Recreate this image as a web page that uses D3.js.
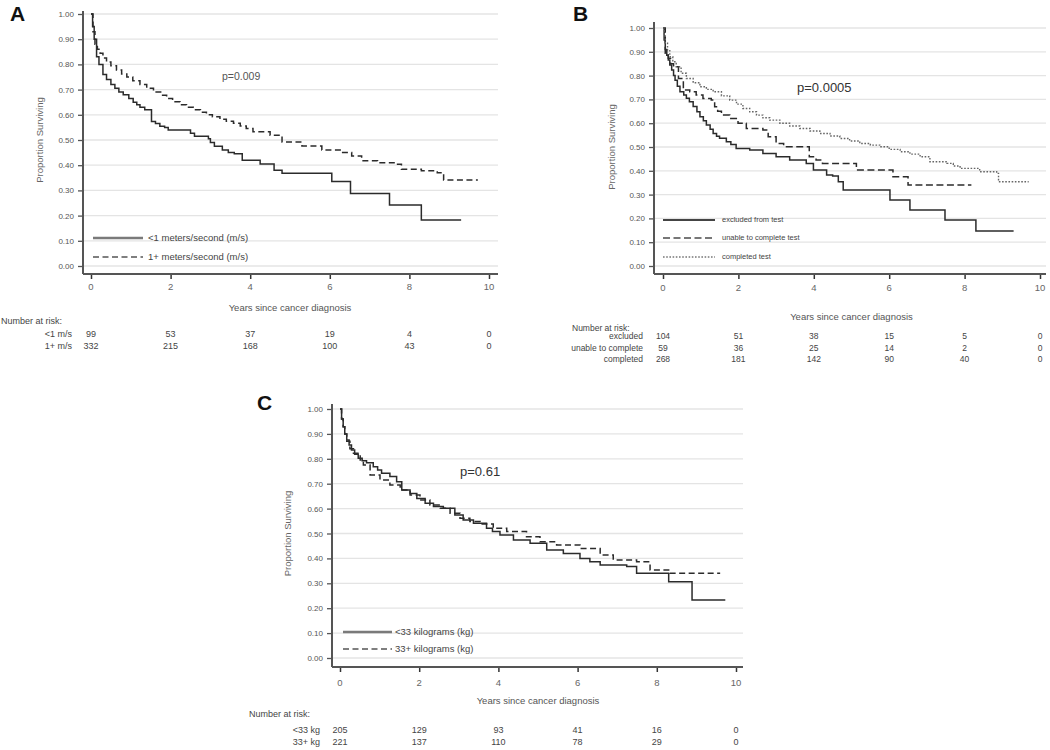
<!DOCTYPE html>
<html><head><meta charset="utf-8">
<script src="https://cdn.jsdelivr.net/npm/d3@7"></script>
<style>
body{margin:0;background:#fff;}
svg{display:block;}
text{font-family:"Liberation Sans",Arial,Helvetica,sans-serif;}
</style>
</head><body>
<svg id="chart" width="1050" height="750"></svg>
<script>
// ---------------- DATA ----------------
const yTickValues = [0,0.1,0.2,0.3,0.4,0.5,0.6,0.7,0.8,0.9,1.0];
const xTickValues = [0,2,4,6,8,10];
const xTitle = "Years since cancer diagnosis";
const yTitle = "Proportion Surviving";

// Panel A: gait speed
const A_lt1 = [[0,1],[0.04,0.95],[0.08,0.9],[0.14,0.83],[0.2,0.8],[0.3,0.76],[0.39,0.74],[0.5,0.72],[0.6,0.705],[0.7,0.69],[0.81,0.68],[0.95,0.665],[1.06,0.65],[1.15,0.64],[1.23,0.63],[1.35,0.62],[1.52,0.573],[1.62,0.565],[1.73,0.555],[1.85,0.55],[1.94,0.54],[2.5,0.527],[2.6,0.515],[2.95,0.505],[3.0,0.49],[3.1,0.475],[3.3,0.46],[3.45,0.45],[3.6,0.445],[3.8,0.42],[4.25,0.405],[4.6,0.38],[4.8,0.368],[6.05,0.335],[6.52,0.288],[7.5,0.242],[8.3,0.183],[9.3,0.183]];
const A_ge1 = [[0,1],[0.05,0.93],[0.1,0.88],[0.16,0.86],[0.23,0.844],[0.3,0.825],[0.39,0.81],[0.5,0.795],[0.64,0.778],[0.77,0.762],[0.9,0.75],[1.05,0.735],[1.23,0.72],[1.4,0.705],[1.57,0.69],[1.75,0.678],[1.9,0.665],[2.05,0.652],[2.24,0.64],[2.4,0.63],[2.57,0.62],[2.75,0.61],[2.9,0.6],[3.05,0.592],[3.24,0.582],[3.4,0.574],[3.58,0.566],[3.75,0.556],[3.9,0.546],[4.07,0.533],[4.5,0.519],[4.8,0.492],[5.3,0.476],[5.8,0.46],[6.3,0.45],[6.55,0.437],[6.8,0.418],[7.2,0.41],[7.65,0.404],[7.8,0.384],[8.3,0.378],[8.7,0.37],[8.86,0.341],[9.72,0.341]];
const A_labels = ["<1 meters/second (m/s)","1+ meters/second (m/s)"];
const A_riskLabels = ["<1 m/s","1+ m/s"];
const A_risk_lt1 = [99,53,37,19,4,0];
const A_risk_ge1 = [332,215,168,100,43,0];
const A_p = "p=0.009";

// Panel B: test completion
const B_excl = [[0,1],[0.03,0.95],[0.06,0.91],[0.1,0.885],[0.14,0.866],[0.18,0.845],[0.23,0.824],[0.28,0.8],[0.32,0.78],[0.38,0.755],[0.45,0.732],[0.55,0.718],[0.62,0.705],[0.7,0.69],[0.8,0.67],[0.9,0.648],[0.98,0.627],[1.07,0.61],[1.15,0.592],[1.25,0.575],[1.33,0.557],[1.42,0.545],[1.5,0.537],[1.68,0.522],[1.8,0.51],[1.94,0.494],[2.3,0.487],[2.65,0.473],[3.0,0.459],[3.36,0.445],[3.8,0.431],[3.99,0.403],[4.34,0.382],[4.5,0.378],[4.65,0.354],[4.78,0.319],[6.02,0.277],[6.55,0.235],[7.48,0.193],[8.3,0.147],[9.3,0.147]];
const B_unable = [[0,1],[0.06,0.894],[0.14,0.873],[0.2,0.85],[0.28,0.837],[0.41,0.788],[0.54,0.739],[0.71,0.732],[0.88,0.718],[1.06,0.704],[1.28,0.697],[1.37,0.669],[1.45,0.65],[1.55,0.634],[1.77,0.62],[1.99,0.6],[2.21,0.578],[2.65,0.571],[2.79,0.543],[3.0,0.515],[3.2,0.501],[3.88,0.459],[4.06,0.445],[4.23,0.431],[5.13,0.403],[6.1,0.375],[6.5,0.34],[8.18,0.34]];
const B_compl = [[0,1],[0.03,0.97],[0.06,0.936],[0.12,0.905],[0.18,0.879],[0.26,0.858],[0.35,0.837],[0.48,0.81],[0.62,0.788],[0.8,0.77],[0.98,0.753],[1.15,0.742],[1.33,0.732],[1.55,0.715],[1.77,0.697],[1.95,0.68],[2.12,0.662],[2.3,0.648],[2.48,0.634],[2.65,0.623],[2.83,0.613],[3.1,0.6],[3.36,0.588],[3.63,0.578],[3.9,0.567],[4.16,0.557],[4.43,0.546],[4.69,0.536],[4.95,0.525],[5.22,0.515],[5.5,0.508],[5.75,0.501],[6.0,0.49],[6.29,0.48],[6.55,0.47],[6.82,0.459],[7.08,0.438],[7.53,0.431],[7.7,0.42],[7.88,0.41],[8.4,0.396],[8.85,0.389],[8.9,0.354],[9.7,0.354]];
const B_labels = ["excluded from test","unable to complete test","completed test"];
const B_riskLabels = ["excluded","unable to complete","completed"];
const B_risk_excl = [104,51,38,15,5,0];
const B_risk_unable = [59,36,25,14,2,0];
const B_risk_compl = [268,181,142,90,40,0];
const B_p = "p=0.0005";

// Panel C: grip strength
const C_lt33 = [[0,1],[0.04,0.96],[0.08,0.929],[0.12,0.9],[0.17,0.876],[0.23,0.855],[0.29,0.835],[0.37,0.818],[0.46,0.802],[0.56,0.792],[0.67,0.784],[0.84,0.768],[0.95,0.755],[1.05,0.742],[1.26,0.729],[1.43,0.708],[1.56,0.675],[1.77,0.661],[1.94,0.641],[2.15,0.621],[2.36,0.608],[2.61,0.601],[2.9,0.574],[3.11,0.554],[3.37,0.541],[3.7,0.521],[3.85,0.508],[4.04,0.494],[4.38,0.474],[4.8,0.461],[5.22,0.434],[5.64,0.42],[6.06,0.4],[6.31,0.387],[6.57,0.373],[7.24,0.367],[7.49,0.34],[8.3,0.306],[8.89,0.233],[9.73,0.233]];
const C_ge33 = [[0,1],[0.04,0.96],[0.08,0.929],[0.12,0.9],[0.17,0.87],[0.25,0.84],[0.34,0.822],[0.51,0.795],[0.59,0.775],[0.76,0.735],[1.01,0.715],[1.26,0.695],[1.52,0.675],[1.77,0.655],[2.02,0.635],[2.27,0.614],[2.53,0.601],[2.78,0.581],[3.03,0.561],[3.28,0.548],[3.54,0.538],[3.87,0.521],[4.21,0.508],[4.71,0.487],[5.05,0.467],[5.47,0.454],[6.06,0.44],[6.57,0.414],[6.9,0.394],[7.49,0.387],[7.83,0.353],[8.33,0.34],[9.6,0.34]];
const C_labels = ["<33 kilograms (kg)","33+ kilograms (kg)"];
const C_riskLabels = ["<33 kg","33+ kg"];
const C_risk_lt33 = [205,129,93,41,16,0];
const C_risk_ge33 = [221,137,110,78,29,0];
const C_p = "p=0.61";

// ---------------- STYLES / LAYOUT ----------------
const styles = {
  solid:  {stroke:"#2b2b2b", width:1.5, dash:null, legStroke:"#7a7a7a", legWidth:2.6},
  solidB: {stroke:"#2b2b2b", width:1.5, dash:null, legStroke:"#444", legWidth:1.8},
  dashed: {stroke:"#2b2b2b", width:1.5, dash:"6,3.5", legStroke:"#555", legWidth:1.6},
  dashedB:{stroke:"#2b2b2b", width:1.5, dash:"7,3.5", legStroke:"#777", legWidth:1.8},
  dotted: {stroke:"#666", width:1.4, dash:"1.6,1.6", legStroke:"#777", legWidth:1.4}
};

const panels = [
  {letter:"A", letterPos:[10,21],
   xr:[91,489], yr:[266,14], axL:83, axB:274, axR:498, axT:11,
   yTitleX:40, pText:A_p, pPos:[222,80], pSize:10.5, pColor:"#555",
   series:[{d:A_lt1,s:"solid"},{d:A_ge1,s:"dashed"}], labels:A_labels,
   legY:[238,257], legX:[93,143], legTextX:148, legSize:9.5,
   tickLabY:290, titleY:311, narPos:[1,324], rowsY:[337,349], rowLabX:72, tabSize:9,
   riskLabels:A_riskLabels, risk:[A_risk_lt1,A_risk_ge1]},
  {letter:"B", letterPos:[573,21],
   xr:[663,1040], yr:[266,28], axL:654, axB:274, axR:1046, axT:22,
   yTitleX:612, pText:B_p, pPos:[797,92], pSize:13, pColor:"#333",
   series:[{d:B_excl,s:"solidB"},{d:B_unable,s:"dashedB"},{d:B_compl,s:"dotted"}], labels:B_labels,
   legY:[220,238,257], legX:[663,715], legTextX:722, legSize:7.5,
   tickLabY:291, titleY:320, narPos:[572,331], rowsY:[339,351,362], rowLabX:643, tabSize:8.5,
   riskLabels:B_riskLabels, risk:[B_risk_excl,B_risk_unable,B_risk_compl]},
  {letter:"C", letterPos:[257,410],
   xr:[340,736], yr:[658,409], axL:332, axB:667, axR:743, axT:404,
   yTitleX:288, pText:C_p, pPos:[460,476], pSize:13, pColor:"#333",
   series:[{d:C_lt33,s:"solid"},{d:C_ge33,s:"dashed"}], labels:C_labels,
   legY:[632,649], legX:[343,392], legTextX:395, legSize:9.5,
   tickLabY:686, titleY:704, narPos:[249,717], rowsY:[733,745], rowLabX:320, tabSize:9,
   riskLabels:C_riskLabels, risk:[C_risk_lt33,C_risk_ge33]}
];

const svg = d3.select("#chart");
const txt = "#444";

panels.forEach(p => {
  const g = svg.append("g");
  const x = d3.scaleLinear().domain([0,10]).range(p.xr);
  const y = d3.scaleLinear().domain([0,1]).range(p.yr);

  // gridlines
  g.append("g").selectAll("line").data(yTickValues).join("line")
    .attr("x1", p.axL).attr("x2", p.axR)
    .attr("y1", d=>y(d)).attr("y2", d=>y(d))
    .attr("stroke","#e4e4e4").attr("stroke-width",1.3);

  // y axis
  const yAxis = d3.axisLeft(y).tickValues(yTickValues).tickFormat(d3.format(".2f")).tickSize(5).tickSizeOuter(0);
  const ya = g.append("g").attr("transform",`translate(${p.axL},0)`).call(yAxis);
  ya.select(".domain").remove();
  ya.selectAll(".tick line").attr("stroke","#555").attr("stroke-width",1.3);
  ya.selectAll(".tick text").attr("fill","#555").attr("font-size",8).attr("x",-9);
  g.append("line").attr("x1",p.axL).attr("x2",p.axL).attr("y1",p.axT).attr("y2",p.axB)
    .attr("stroke","#555").attr("stroke-width",2);

  // x axis
  const xAxis = d3.axisBottom(x).tickValues(xTickValues).tickFormat(d3.format("d")).tickSize(5).tickSizeOuter(0);
  const xa = g.append("g").attr("transform",`translate(0,${p.axB})`).call(xAxis);
  xa.select(".domain").remove();
  xa.selectAll(".tick line").attr("stroke","#333").attr("stroke-width",1.5);
  xa.selectAll(".tick text").remove();
  g.append("line").attr("x1",p.axL).attr("x2",p.axR).attr("y1",p.axB).attr("y2",p.axB)
    .attr("stroke","#555").attr("stroke-width",2);
  g.append("g").selectAll("text").data(xTickValues).join("text")
    .attr("x", d=>x(d)).attr("y", p.tickLabY).attr("text-anchor","middle")
    .attr("font-size",9.5).attr("fill","#666").text(d=>d);

  // titles
  g.append("text").attr("x", x(5)).attr("y", p.titleY).attr("text-anchor","middle")
    .attr("font-size",9.5).attr("fill","#555").text(xTitle);
  g.append("text").attr("transform",`translate(${p.yTitleX},${(p.yr[0]+p.yr[1])/2}) rotate(-90)`)
    .attr("text-anchor","middle").attr("dominant-baseline","middle")
    .attr("font-size",9.5).attr("fill","#666").text(yTitle);

  // panel letter
  g.append("text").attr("x",p.letterPos[0]).attr("y",p.letterPos[1])
    .attr("font-size",21).attr("font-weight","bold").attr("fill","#111").text(p.letter);

  // p value
  g.append("text").attr("x",p.pPos[0]).attr("y",p.pPos[1])
    .attr("font-size",p.pSize).attr("fill",p.pColor).text(p.pText);

  // curves
  const line = d3.line().x(d=>x(d[0])).y(d=>y(d[1])).curve(d3.curveStepAfter);
  p.series.forEach(s => {
    const st = styles[s.s];
    g.append("path").datum(s.d).attr("d", line).attr("fill","none")
      .attr("stroke", st.stroke).attr("stroke-width", st.width)
      .attr("stroke-dasharray", st.dash);
  });

  // legend
  p.series.forEach((s,i) => {
    const st = styles[s.s];
    g.append("line").attr("x1",p.legX[0]).attr("x2",p.legX[1])
      .attr("y1",p.legY[i]).attr("y2",p.legY[i])
      .attr("stroke",st.legStroke).attr("stroke-width",st.legWidth)
      .attr("stroke-dasharray",st.dash);
    g.append("text").attr("x",p.legTextX).attr("y",p.legY[i]).attr("dominant-baseline","middle")
      .attr("font-size",p.legSize).attr("fill","#444").text(p.labels[i]);
  });

  // number at risk table
  g.append("text").attr("x",p.narPos[0]).attr("y",p.narPos[1])
    .attr("font-size",p.tabSize).attr("fill",txt).text("Number at risk:");
  p.risk.forEach((row,i) => {
    g.append("text").attr("x",p.rowLabX).attr("y",p.rowsY[i]).attr("text-anchor","end")
      .attr("font-size",p.tabSize).attr("fill",txt).text(p.riskLabels[i]);
    g.append("g").selectAll("text").data(row).join("text")
      .attr("x",(d,j)=>x(xTickValues[j])).attr("y",p.rowsY[i]).attr("text-anchor","middle")
      .attr("font-size",p.tabSize).attr("fill",txt).text(d=>d);
  });
});
</script>
</body></html>
